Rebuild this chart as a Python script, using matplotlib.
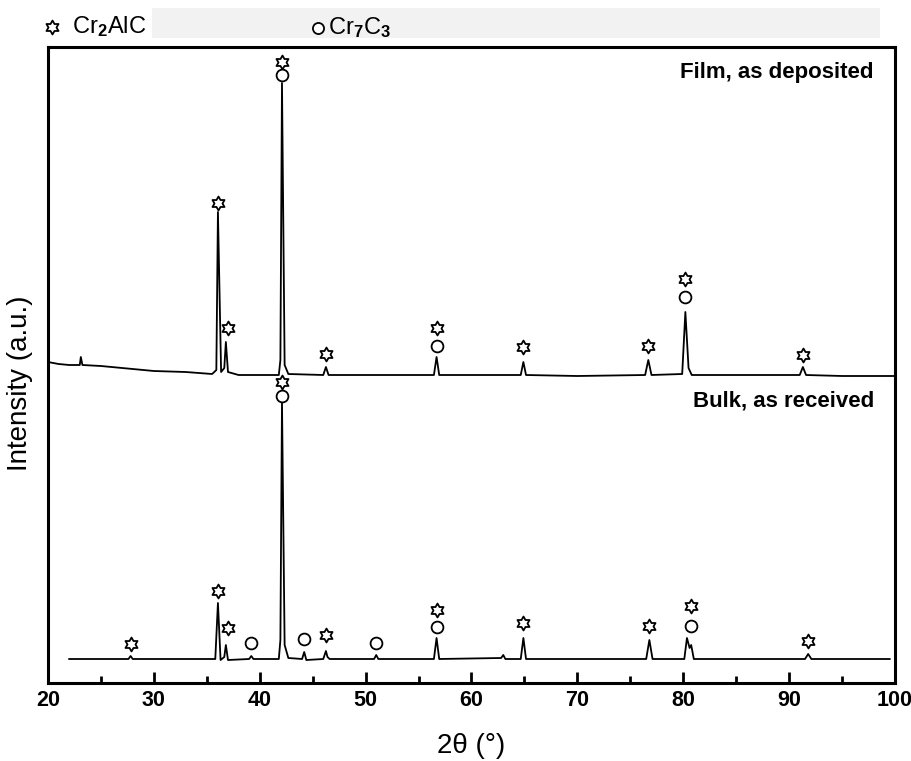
import numpy as np
import matplotlib
matplotlib.use("Agg")
import matplotlib.pyplot as plt
from matplotlib.path import Path
from matplotlib.patches import Rectangle
from matplotlib import font_manager

plt.rcParams['font.family'] = ['Liberation Sans', 'DejaVu Sans']
plt.rcParams['mathtext.fontset'] = 'custom'
plt.rcParams['mathtext.rm'] = 'Liberation Sans:bold'
plt.rcParams['mathtext.it'] = 'Liberation Sans:bold'
plt.rcParams['mathtext.bf'] = 'Liberation Sans:bold'

_names = {f.name for f in font_manager.fontManager.ttflist}
if 'Liberation Sans Narrow' in _names:
    tick_family, tick_size = 'Liberation Sans Narrow', 17.5
else:
    tick_family, tick_size = 'Liberation Sans', 15.5

# ---------------- data ----------------
film_x = [20.0, 21.0, 22.0, 23.0, 23.1, 23.25, 25.0, 28.0, 30.0, 33.0, 35.5, 35.9,
          36.05, 36.35, 36.65, 36.8, 37.0, 38.0, 41.8, 41.95, 42.1, 42.35, 42.7,
          46.0, 46.25, 46.5, 50.0, 56.45, 56.7, 56.95, 60.0, 64.65, 64.9, 65.15,
          70.0, 76.4, 76.7, 77.0, 79.9, 80.2, 80.5, 80.8, 85.0, 91.0, 91.3, 91.6,
          95.0, 100.0]
film_y = [321, 319, 318, 318, 326, 318, 317, 314, 312, 311, 309, 313,
          471, 311, 315, 341, 311, 308, 308, 323, 600, 318, 309,
          308, 316, 308, 308, 308, 326, 308, 308, 308, 321, 308,
          307, 308, 323, 308, 309, 371, 315, 308, 308, 308, 316, 308,
          307, 307]

bulk_x = [22.0, 25.0, 27.6, 27.8, 28.0, 32.0, 35.8, 36.05, 36.3, 36.65, 36.8, 37.0,
          39.0, 39.2, 39.4, 41.8, 41.95, 42.1, 42.35, 42.7, 44.0, 44.2, 44.4,
          46.0, 46.25, 46.4, 46.6, 50.8, 51.0, 51.2, 56.45, 56.7, 56.95,
          62.8, 63.0, 63.2, 64.65, 64.9, 65.15, 70.0, 76.5, 76.8, 77.1,
          80.1, 80.35, 80.6, 80.75, 81.0, 86.0, 91.5, 91.8, 92.1, 99.5]
bulk_y = [24, 24, 24, 27, 24, 24, 24, 80, 23, 26, 38, 23,
          24, 27, 24, 24, 43, 281, 38, 25, 24, 31, 23,
          24, 32, 26, 24, 24, 28, 24, 24, 45, 24,
          25, 28, 24, 24, 45, 24, 24, 24, 43, 24,
          24, 45, 35, 38, 24, 24, 24, 29, 24, 24]

# phase markers (2theta, height)
film_star_x = [36.05, 37.0, 42.1, 46.25, 56.7, 64.9, 76.7, 80.2, 91.3]
film_star_y = [480, 355, 621, 329, 355, 336, 337, 404, 328]
film_circ_x = [42.1, 56.7, 80.2]
film_circ_y = [608, 337, 386]

bulk_star_x = [27.8, 36.05, 37.0, 42.1, 46.25, 56.7, 64.9, 76.8, 80.7, 91.8]
bulk_star_y = [39, 92, 55, 301, 48, 73, 60, 57, 77, 42]
bulk_circ_x = [39.2, 42.1, 44.2, 51.0, 56.7, 80.7]
bulk_circ_y = [40, 287, 44, 40, 56, 57]

xticks = [20, 30, 40, 50, 60, 70, 80, 90, 100]
phase_labels = [r'Cr$_\mathrm{2}$AlC', r'Cr$_\mathrm{7}$C$_\mathrm{3}$']
trace_labels = ['Film, as deposited', 'Bulk, as received']

# ---------------- hexagram marker ----------------
ang = np.pi / 2 + np.arange(12) * np.pi / 6
rad = np.where(np.arange(12) % 2 == 0, 1.0, 1 / np.sqrt(3))
verts = np.column_stack([rad * np.cos(ang), rad * np.sin(ang)])
verts = np.vstack([verts, verts[0]])
hexagram = Path(verts, [Path.MOVETO] + [Path.LINETO] * 11 + [Path.CLOSEPOLY])

W, H = 912, 761
fig = plt.figure(figsize=(W / 100, H / 100), dpi=100)

# faint grey band behind the header
fig.patches.append(Rectangle((152 / W, 1 - 38 / H), (880 - 152) / W, 30 / H,
                             transform=fig.transFigure, facecolor='#f2f2f2',
                             edgecolor='none', zorder=-5))

ax = fig.add_axes([48 / W, 1 - 683 / H, (895 - 48) / W, (683 - 47) / H])
ax.plot(film_x, film_y, color='black', lw=1.3, solid_joinstyle='round')
ax.plot(bulk_x, bulk_y, color='black', lw=1.3, solid_joinstyle='round')

mk = dict(linestyle='none', markerfacecolor='white', markeredgecolor='black',
          markeredgewidth=1.3, clip_on=False, zorder=5)
ax.plot(film_star_x, film_star_y, marker=hexagram, markersize=10, **mk)
ax.plot(bulk_star_x, bulk_star_y, marker=hexagram, markersize=10, **mk)
ax.plot(film_circ_x, film_circ_y, marker='o', markersize=8.5, **mk)
ax.plot(bulk_circ_x, bulk_circ_y, marker='o', markersize=8.5, **mk)

ax.text(0.975, 0.96, trace_labels[0], transform=ax.transAxes, ha='right',
        va='center', fontsize=16, fontweight='bold')
ax.text(0.975, 0.443, trace_labels[1], transform=ax.transAxes, ha='right',
        va='center', fontsize=16, fontweight='bold')

ax.set_xlim(20, 100)
ax.set_ylim(0, 636)
ax.set_xticks(xticks)
ax.set_xticklabels([str(t) for t in xticks], family=tick_family,
                   fontweight='bold', fontsize=tick_size)
ax.set_xticks(np.arange(25, 100, 10), minor=True)
ax.set_yticks([])
ax.tick_params(axis='x', which='major', direction='in', length=8, width=2,
               pad=5, top=False)
ax.tick_params(axis='x', which='minor', direction='in', length=5, width=2,
               top=False)
for s in ax.spines.values():
    s.set_linewidth(2.2)

ax.set_xlabel('2θ (°)', fontsize=20)
ax.xaxis.set_label_coords(0.5, -(733 - 683) / 636)
ax.set_ylabel('Intensity (a.u.)', fontsize=20)
ax.yaxis.set_label_coords(-0.018, (683 - 383) / 636)

# header legend
ov = fig.add_axes([0, 0, 1, 1], facecolor='none')
ov.set_xlim(0, W)
ov.set_ylim(H, 0)
ov.axis('off')
ov.plot([52], [27], marker=hexagram, markersize=10, **mk)
ov.plot([318], [28], marker='o', markersize=8, **mk)
ov.text(72, 27, phase_labels[0], fontsize=17, va='center', ha='left')
ov.text(328, 28, phase_labels[1], fontsize=17, va='center', ha='left')

fig.savefig('out.png', dpi=100)
